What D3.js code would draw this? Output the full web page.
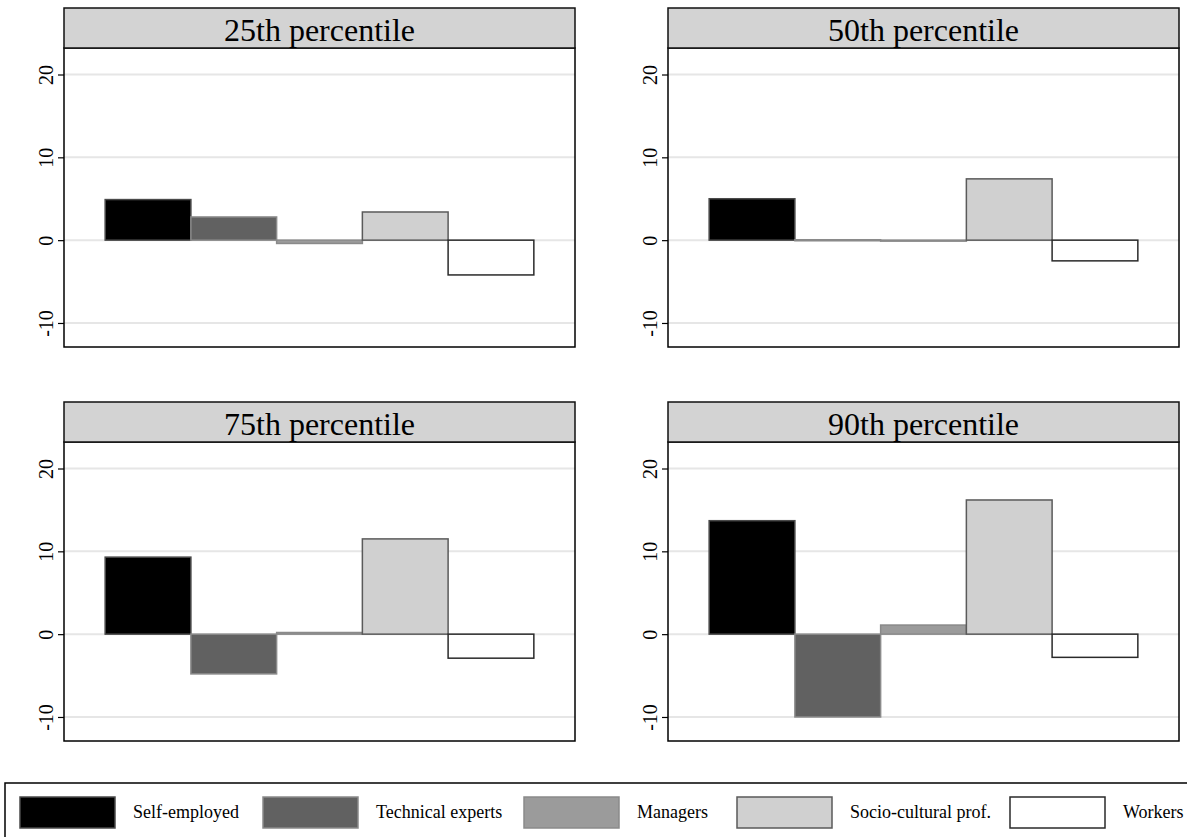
<!DOCTYPE html>
<html><head><meta charset="utf-8">
<script src="https://cdn.jsdelivr.net/npm/d3@7"></script>
<style>body{margin:0;background:#fff}svg{display:block}</style>
</head><body>
<svg id="c" width="1187" height="837"></svg>
<script>
const categories = ["Self-employed","Technical experts","Managers","Socio-cultural prof.","Workers"];
const panels = ["25th percentile","50th percentile","75th percentile","90th percentile"];
const p25 = [4.9, 2.8, -0.4, 3.4, -4.2];
const p50 = [5.0, 0.05, -0.1, 7.4, -2.5];
const p75 = [9.3, -4.8, 0.2, 11.5, -2.9];
const p90 = [13.7, -10.0, 1.1, 16.2, -2.8];
const seriesValues = [p25, p50, p75, p90];
const yTicks = [-10, 0, 10, 20];
const yTickLabels = ["-10", "0", "10", "20"];
const fills = ["#000000","#616161","#9b9b9b","#d0d0d0","#ffffff"];
const strokes = ["#4a4a4a","#8a8a8a","#8a8a8a","#5a5a5a","#2a2a2a"];

const svg = d3.select("#c");
const font = "'Liberation Serif','Times New Roman',serif";
const pos = [[64,8],[668,8],[64,402],[668,402]];
const W = 511, TH = 40, PH = 299;

panels.forEach((title, i) => {
  const [px, py] = pos[i];
  const g = svg.append("g").attr("transform", `translate(${px},${py})`);
  const y = d3.scaleLinear().domain([-12.9, 23.2]).range([TH + PH, TH]);
  const x = d3.scaleBand().domain(categories).range([0, W]).paddingInner(0).paddingOuter(0.48);
  g.selectAll(".grid").data(yTicks).join("line")
    .attr("x1", 0).attr("x2", W).attr("y1", d => y(d)).attr("y2", d => y(d))
    .attr("stroke", "#e6e6e6").attr("stroke-width", 2);
  g.selectAll(".bar").data(seriesValues[i]).join("rect")
    .attr("x", (d, j) => x(categories[j]))
    .attr("width", x.bandwidth())
    .attr("y", d => Math.min(y(d), y(0)))
    .attr("height", d => Math.max(Math.abs(y(d) - y(0)), 1))
    .attr("fill", (d, j) => fills[j])
    .attr("stroke", (d, j) => strokes[j])
    .attr("stroke-width", 1.5);
  g.append("rect").attr("x", 0).attr("y", TH).attr("width", W).attr("height", PH)
    .attr("fill", "none").attr("stroke", "#000").attr("stroke-width", 1.5);
  g.append("rect").attr("x", 0).attr("y", 0).attr("width", W).attr("height", TH)
    .attr("fill", "#d3d3d3").attr("stroke", "#111").attr("stroke-width", 1.5);
  g.append("text").attr("x", W / 2).attr("y", 33).attr("text-anchor", "middle")
    .attr("font-family", font).attr("font-size", 32).attr("fill", "#000").text(title);
  const ax = g.append("g").call(d3.axisLeft(y).tickValues(yTicks).tickSize(6).tickPadding(0)
    .tickFormat((d, k) => yTickLabels[k]));
  ax.select(".domain").remove();
  ax.selectAll(".tick line").attr("stroke", "#000").attr("stroke-width", 1.2);
  ax.selectAll(".tick text")
    .attr("x", null).attr("dy", null)
    .attr("text-anchor", "middle")
    .attr("transform", "translate(-11,0) rotate(-90)")
    .attr("font-family", font).attr("font-size", 20).attr("fill", "#000");
});

const lg = svg.append("g");
lg.append("rect").attr("x", 5).attr("y", 783).attr("width", 1250).attr("height", 100)
  .attr("fill", "#fff").attr("stroke", "#000").attr("stroke-width", 1.5);
const swX = [20, 263, 524, 737, 1010];
categories.forEach((c, j) => {
  lg.append("rect").attr("x", swX[j]).attr("y", 797).attr("width", 95).attr("height", 31)
    .attr("fill", fills[j]).attr("stroke", strokes[j]).attr("stroke-width", 1.5);
  lg.append("text").attr("x", swX[j] + 113).attr("y", 818)
    .attr("font-family", font).attr("font-size", 18).attr("fill", "#000").text(c);
});
</script>
</body></html>
